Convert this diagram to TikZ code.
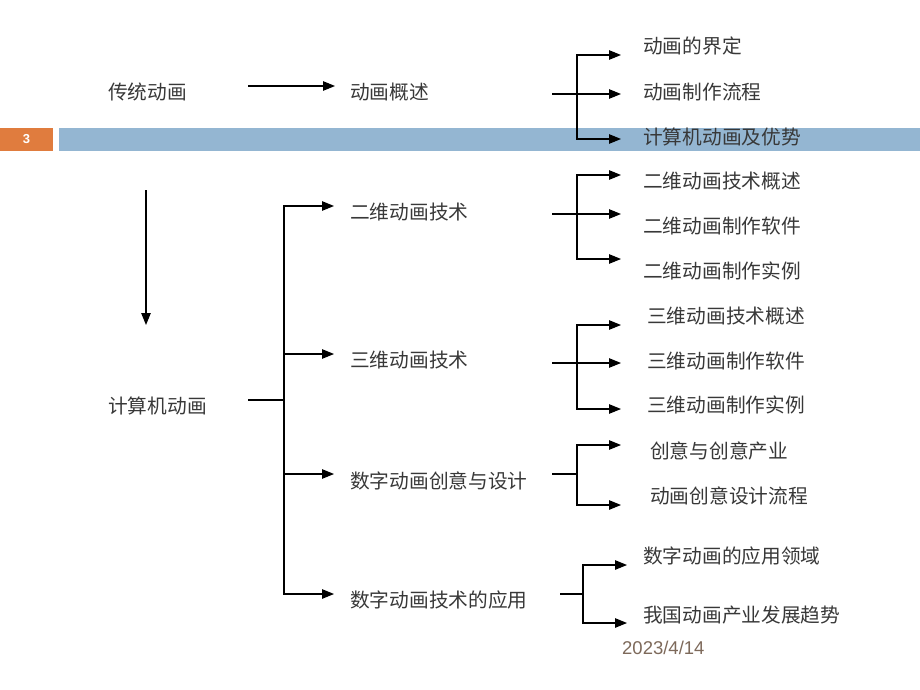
\documentclass[tikz,border=0pt]{standalone}
\usepackage{fontspec}
\newfontfamily\cjk{Noto Sans CJK SC}
\newfontfamily\datefont{Liberation Sans}
\usetikzlibrary{arrows.meta,calc}
\definecolor{barblue}{RGB}{148,182,210}
\definecolor{baror}{RGB}{224,124,62}
\definecolor{datecol}{RGB}{125,105,90}
\definecolor{txt}{gray}{0.22}
\tikzset{
  lbl/.style={anchor=west,inner sep=0pt,font=\cjk\fontsize{19.7}{22}\selectfont,text=txt},
  con/.style={line width=1.1pt,draw=black},
  arr/.style={con,-{Triangle[length=12pt,width=9.5pt]}},
}
\begin{document}
\begin{tikzpicture}[x=1pt,y=-1pt]
\useasboundingbox (0,0) rectangle (920,690);
% header bar
\fill[baror] (0,128) rectangle (53,151);
\fill[barblue] (59,128) rectangle (920,151);
\node[font=\datefont\bfseries\fontsize{13}{15}\selectfont,text=white] (pg) at (26.5,139.5) {3};
% labels
\node[lbl] (chuantong) at (108,92) {传统动画};
\node[lbl] (gaishu) at (350,92) {动画概述};
\node[lbl] (jieding) at (643,46) {动画的界定};
\node[lbl] (liucheng) at (643,92) {动画制作流程};
\node[lbl] (youshi) at (643,137) {计算机动画及优势};
\node[lbl] (jisuanji) at (108,406) {计算机动画};
\node[lbl] (erwei) at (350,212) {二维动画技术};
\node[lbl] (ewa) at (643,181) {二维动画技术概述};
\node[lbl] (ewb) at (643,226) {二维动画制作软件};
\node[lbl] (ewc) at (643,271) {二维动画制作实例};
\node[lbl] (sanwei) at (350,360) {三维动画技术};
\node[lbl] (swa) at (647,316) {三维动画技术概述};
\node[lbl] (swb) at (647,361) {三维动画制作软件};
\node[lbl] (swc) at (647,405) {三维动画制作实例};
\node[lbl] (chuangyi) at (350,481) {数字动画创意与设计};
\node[lbl] (cya) at (650,451) {创意与创意产业};
\node[lbl] (cyb) at (650,496) {动画创意设计流程};
\node[lbl] (yingyong) at (350,600) {数字动画技术的应用};
\node[lbl] (yya) at (643,556) {数字动画的应用领域};
\node[lbl] (yyb) at (643,615) {我国动画产业发展趋势};
\node[anchor=west,inner sep=0pt,font=\datefont\fontsize{18.5}{20}\selectfont,text=datecol] (date) at (622,648) {2023/4/14};
% junction coordinates
\coordinate (a0) at (248,86);
\coordinate (d0) at (146,190);
\coordinate (d1) at (146,325);
\coordinate (s0) at (248,400);
\coordinate (j0) at (284,400);
\coordinate (s1) at (552,94);
\coordinate (j1) at (577,94);
\coordinate (s2) at (552,214);
\coordinate (j2) at (577,214);
\coordinate (s3) at (552,363);
\coordinate (j3) at (577,363);
\coordinate (s4) at (552,474);
\coordinate (j4) at (577,474);
\coordinate (s5) at (560,594);
\coordinate (j5) at (583,594);
% top arrow and down arrow
\draw[arr] (a0) -- ($(gaishu.west)+(-15,-6)$);
\draw[arr] (d0) -- (d1);
% main tree
\draw[con] (s0) -- (j0);
\draw[arr] (j0) |- ($(erwei.west)+(-16,-6)$);
\draw[arr] (j0) |- ($(sanwei.west)+(-16,-6)$);
\draw[arr] (j0) |- ($(chuangyi.west)+(-16,-7)$);
\draw[arr] (j0) |- ($(yingyong.west)+(-16,-6)$);
% group 1
\draw[con] (s1) -- (j1);
\draw[arr] (j1) |- ($(jieding.west)+(-22,9)$);
\draw[arr] (j1) |- ($(liucheng.west)+(-22,2)$);
\draw[arr] (j1) |- ($(youshi.west)+(-22,2)$);
% group 2
\draw[con] (s2) -- (j2);
\draw[arr] (j2) |- ($(ewa.west)+(-22,-6)$);
\draw[arr] (j2) |- ($(ewb.west)+(-22,-12)$);
\draw[arr] (j2) |- ($(ewc.west)+(-22,-12)$);
% group 3
\draw[con] (s3) -- (j3);
\draw[arr] (j3) |- ($(swa.west)+(-26,9)$);
\draw[arr] (j3) |- ($(swb.west)+(-26,2)$);
\draw[arr] (j3) |- ($(swc.west)+(-26,4)$);
% group 4
\draw[con] (s4) -- (j4);
\draw[arr] (j4) |- ($(cya.west)+(-29,-6)$);
\draw[arr] (j4) |- ($(cyb.west)+(-29,9)$);
% group 5
\draw[con] (s5) -- (j5);
\draw[arr] (j5) |- ($(yya.west)+(-16,9)$);
\draw[arr] (j5) |- ($(yyb.west)+(-16,8)$);
\end{tikzpicture}
\end{document}
